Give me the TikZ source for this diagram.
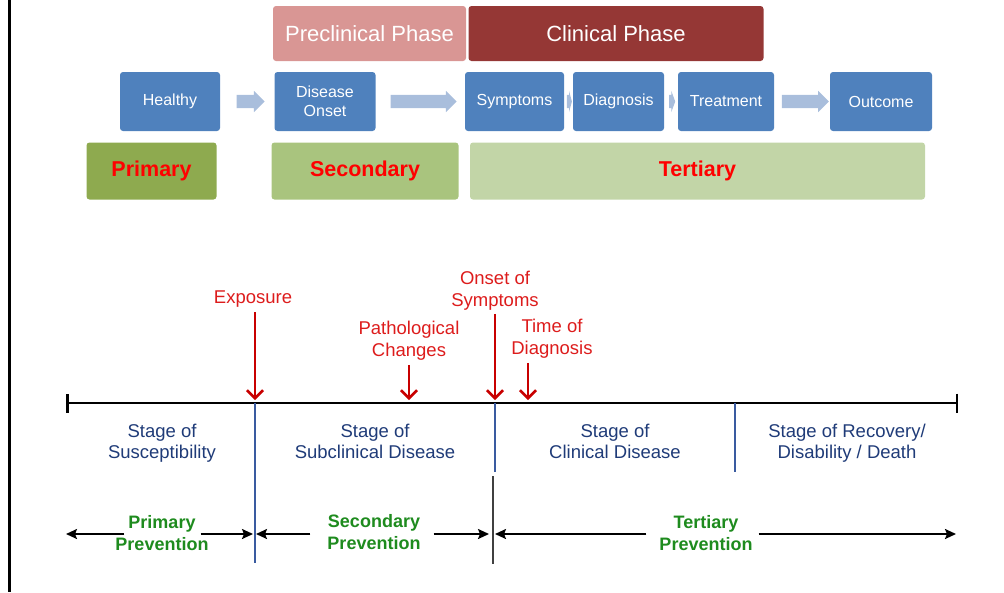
\documentclass[tikz,border=0pt]{standalone}
\usepackage{fontspec}
\setmainfont{Liberation Sans}
\usetikzlibrary{arrows.meta}
\usetikzlibrary{calc}
\usetikzlibrary{shapes}

\definecolor{boxblue}{HTML}{4F81BD}
\definecolor{arrowblue}{HTML}{A9BEDC}
\definecolor{preclin}{HTML}{D99694}
\definecolor{clinic}{HTML}{953735}
\definecolor{primgreen}{HTML}{8EAA4F}
\definecolor{secgreen}{HTML}{A9C47E}
\definecolor{tertgreen}{HTML}{C2D5A7}
\definecolor{levelred}{HTML}{FF0000}
\definecolor{eventred}{HTML}{C80000}
\definecolor{labelred}{HTML}{DD1C1C}
\definecolor{stageblue}{HTML}{1F3B78}
\definecolor{divblue}{HTML}{3A5BA0}
\definecolor{prevgreen}{HTML}{1E8B1E}

\begin{document}
\begin{tikzpicture}[x=1pt,y=-1pt]
  \useasboundingbox (0,0) rectangle (1004,592);

  \path
    let
     \n{phase} = {33.5},
     \n{flow}  = {101.5},
     \n{level} = {171},
     \n{axis}  = {403}
    in
     coordinate (preclin)    at (369.5, \n{phase})
     coordinate (clinic)     at (616,   \n{phase})
     coordinate (healthy)    at (170,   \n{flow})
     coordinate (onset)      at (325,   \n{flow})
     coordinate (symptoms)   at (514.5, \n{flow})
     coordinate (diagnosis)  at (618.5, \n{flow})
     coordinate (treatment)  at (726,   \n{flow})
     coordinate (outcome)    at (881,   \n{flow})
     coordinate (primary)    at (151.5, \n{level})
     coordinate (secondary)  at (365,   \n{level})
     coordinate (tertiary)   at (697.5, \n{level})
     coordinate (tstart)     at (66,    \n{axis})
     coordinate (tend)       at (958,   \n{axis})
     coordinate (hitexpo)    at (255,   \n{axis}-3)
     coordinate (hitpath)    at (409,   \n{axis}-3)
     coordinate (hitonset)   at (495,   \n{axis}-3)
     coordinate (hitdiag)    at (528,   \n{axis}-3)
    ;

  % Left frame line
  \draw [line width=3pt] (9,0) -- (9,592);

  % Phases
  \tikzset{phasestyle/.style = {shape=rectangle, rounded corners=3pt, minimum height=55pt, inner sep=0pt, text=white, font=\fontsize{22}{24}\selectfont}}
  \node [phasestyle, fill=preclin, minimum width=193pt] (Preclin) at (preclin) {Preclinical Phase};
  \node [phasestyle, fill=clinic, minimum width=295pt] (Clinic) at (clinic) {Clinical Phase};

  % Course of disease
  \tikzset{stepstyle/.style = {shape=rectangle, rounded corners=3pt, fill=boxblue, minimum height=59pt, inner sep=0pt, text=white, align=center, font=\fontsize{16}{19}\selectfont}}
  \node [stepstyle, minimum width=100pt] (Healthy) at (healthy) {Healthy};
  \node [stepstyle, minimum width=101pt] (Onset) at (onset) {Disease\\Onset};
  \node [stepstyle, minimum width=99pt] (Symptoms) at (symptoms) {Symptoms};
  \node [stepstyle, minimum width=91pt] (Diagnosis) at (diagnosis) {Diagnosis};
  \node [stepstyle, minimum width=96pt] (Treatment) at (treatment) {Treatment};
  \node [stepstyle, minimum width=102pt] (Outcome) at (outcome) {Outcome};

  \tikzset{flowarrow/.style = {shape=single arrow, fill=arrowblue, inner xsep=0pt, inner ysep=6.5pt, minimum width=21pt, single arrow head extend=4pt}}
  \node [flowarrow, minimum height=28pt] (A1) at ($(Healthy.east)!0.5!(Onset.west)$) {};
  \node [flowarrow, minimum height=66pt] (A2) at ($(Onset.east)!0.5!(Symptoms.west)$) {};
  \node [flowarrow, minimum height=5pt, single arrow tip angle=150, minimum width=19pt] (A3) at ($(Symptoms.east)!0.5!(Diagnosis.west)$) {};
  \node [flowarrow, minimum height=6pt, single arrow tip angle=140, minimum width=19pt] (A4) at ($(Diagnosis.east)!0.5!(Treatment.west)$) {};
  \node [flowarrow, minimum height=47pt] (A5) at ($(Treatment.east)!0.5!(Outcome.west)$) {};

  % Levels of prevention
  \tikzset{levelstyle/.style = {shape=rectangle, rounded corners=3pt, minimum height=57pt, inner sep=0pt, text=levelred, font=\fontsize{21.5}{24}\selectfont\bfseries}}
  \node [levelstyle, fill=primgreen, minimum width=130pt] (Primary) at (primary) {Primary};
  \node [levelstyle, fill=secgreen, minimum width=187pt] (Secondary) at (secondary) {Secondary};
  \node [levelstyle, fill=tertgreen, minimum width=455pt] (Tertiary) at (tertiary) {Tertiary};

  % Time line
  \tikzset{timeline/.style = {draw, line width=2.5pt, {Bar[width=19pt]}-{Bar[width=19pt]}}}
  \path [timeline] (tstart) -- (tend);

  % Events
  \tikzset{eventlabel/.style = {text=labelred, align=center, inner sep=1pt, font=\fontsize{18.5}{22}\selectfont}}
  \node [eventlabel] (Exposure) at (253,299) {Exposure};
  \node [eventlabel] (Patho) at (409,341) {Pathological\\Changes};
  \node [eventlabel] (Onsym) at (495,291) {Onset of\\Symptoms};
  \node [eventlabel] (Tdiag) at (552,339) {Time of\\Diagnosis};

  \tikzset{eventarrow/.style = {draw=eventred, line width=2.5pt, -{Straight Barb[length=8pt, width=16pt]}}}
  \path [eventarrow] ([yshift=-4pt]Exposure.south -| hitexpo) -- (hitexpo);
  \path [eventarrow] ([yshift=-3pt]Patho.south) -- (hitpath);
  \path [eventarrow] ([yshift=-2pt]Onsym.south) -- (hitonset);
  \path [eventarrow] ([yshift=-3pt]Tdiag.south -| hitdiag) -- (hitdiag);

  % Stages
  \tikzset{divider/.style = {draw=divblue, line width=1.5pt}}
  \path [divider] (hitexpo |- tstart) -- ++(0,160);
  \path [divider] (hitonset |- tstart) -- ++(0,69);
  \path [divider] (735,403) -- ++(0,69);
  \draw [line width=2pt, black!75] (493,476) -- (493,564);

  \tikzset{stagestyle/.style = {anchor=north, text=stageblue, align=center, inner sep=0pt, font=\fontsize{18.5}{21}\selectfont}}
  \node [stagestyle] (Suscept) at (162,424) {Stage of\\Susceptibility};
  \node [stagestyle] (Subclin) at (375,424) {Stage of\\Subclinical Disease};
  \node [stagestyle] (Clindis) at (615,424) {Stage of\\Clinical Disease};
  \node [stagestyle] (Recover) at (847,424) {Stage of Recovery/\\Disability / Death};

  % Prevention spans
  \tikzset{prevstyle/.style = {text=prevgreen, align=center, inner sep=0pt, font=\fontsize{18}{22}\selectfont\bfseries}}
  \node [prevstyle] (Primprev) at (162,533) {Primary\\Prevention};
  \node [prevstyle] (Secprev) at (374,532) {Secondary\\Prevention};
  \node [prevstyle] (Tertprev) at (706,533) {Tertiary\\Prevention};

  \tikzset{spanarrow/.style = {draw, line width=2pt, -{Stealth[length=11pt, width=10pt, inset=2pt]}}}
  \path [spanarrow] ([xshift=9pt,yshift=-1pt]Primprev.west) -- ([yshift=-1pt]Primprev.west -| tstart);
  \path [spanarrow] ([xshift=-8pt,yshift=-1pt]Primprev.east) -- ([xshift=-2pt,yshift=-1pt]Primprev.east -| hitexpo);
  \path [spanarrow] ([xshift=-17pt,yshift=-2pt]Secprev.west) -- ([xshift=1pt,yshift=-2pt]Secprev.west -| hitexpo);
  \path [spanarrow] ([xshift=13pt,yshift=-2pt]Secprev.east) -- ([xshift=-6pt,yshift=-2pt]Secprev.east -| hitonset);
  \path [spanarrow] ([xshift=-13pt,yshift=-1pt]Tertprev.west) -- ([yshift=-1pt]Tertprev.west -| hitonset);
  \path [spanarrow] ([xshift=6pt,yshift=-1pt]Tertprev.east) -- ([xshift=-2pt,yshift=-1pt]Tertprev.east -| tend);

\end{tikzpicture}
\end{document}
